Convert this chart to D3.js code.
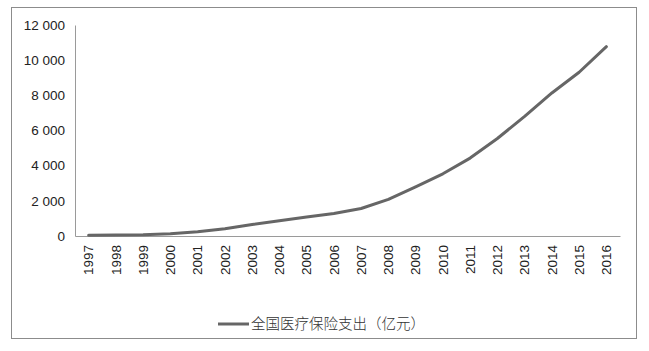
<!DOCTYPE html>
<html><head><meta charset="utf-8">
<script src="https://cdn.jsdelivr.net/npm/d3@7"></script>
<style>body{margin:0;background:#fff}</style>
</head><body>
<script>
const years = ["1997","1998","1999","2000","2001","2002","2003","2004","2005","2006","2007","2008","2009","2010","2011","2012","2013","2014","2015","2016"];
const spending = [40.5,53.3,69.1,124.5,244.1,409.4,653.9,862.2,1078.7,1276.7,1561.8,2083.6,2797.4,3538.1,4431.4,5543.6,6801.0,8133.6,9312.1,10767.1];
const yTicks = [0,2000,4000,6000,8000,10000,12000];
const seriesName = "全国医疗保险支出（亿元）";

(function(){
const W=649,H=351;
const svg=d3.select("body").append("svg").attr("width",W).attr("height",H);
svg.append("rect").attr("x",11.5).attr("y",7.5).attr("width",625).attr("height",331)
  .attr("fill","#fff").attr("stroke","#8c8c8c").attr("stroke-width",1);

const mL=75,mR=620,mT=25,mB=236;
const x=d3.scaleBand().domain(years).range([mL,mR]);
const y=d3.scaleLinear().domain([0,12000]).range([mB,mT]);
const font="'Liberation Sans', Arial, sans-serif";

const fmt=d=>d3.format(",")(d).replace(/,/g," ");
const yAx=svg.append("g").attr("transform",`translate(${mL},0)`)
  .call(d3.axisLeft(y).tickValues(yTicks).tickSize(0).tickPadding(10).tickFormat(fmt));
yAx.select(".domain").attr("stroke","#9a9a9a");
yAx.selectAll("text").attr("font-family",font).attr("font-size","13.5px").attr("fill","#222");

const xAx=svg.append("g").attr("transform",`translate(0,${mB})`)
  .call(d3.axisBottom(x).tickSize(0).tickPadding(8));
xAx.select(".domain").attr("stroke","#9a9a9a");
xAx.selectAll("text").attr("font-family",font).attr("font-size","13.5px").attr("fill","#222")
  .attr("transform","rotate(-90)").attr("text-anchor","end").attr("dx","-9").attr("dy","0.35em").attr("y",0).attr("x",0);

const line=d3.line().x((d,i)=>x(years[i])+x.bandwidth()/2).y(d=>y(d));
svg.append("path").datum(spending).attr("d",line).attr("fill","none")
  .attr("stroke","#666").attr("stroke-width",3).attr("stroke-linejoin","round").attr("stroke-linecap","round");

const lg=svg.append("g");
lg.append("line").attr("x1",218).attr("x2",249).attr("y1",324).attr("y2",324).attr("stroke","#666").attr("stroke-width",3);
lg.append("text").attr("x",251).attr("y",324).attr("dy","0.35em").attr("font-family","'Noto Sans CJK SC', sans-serif")
  .attr("font-size","14.5px").attr("font-weight","300").attr("fill","#333").text(seriesName);
})();
</script>
</body></html>
